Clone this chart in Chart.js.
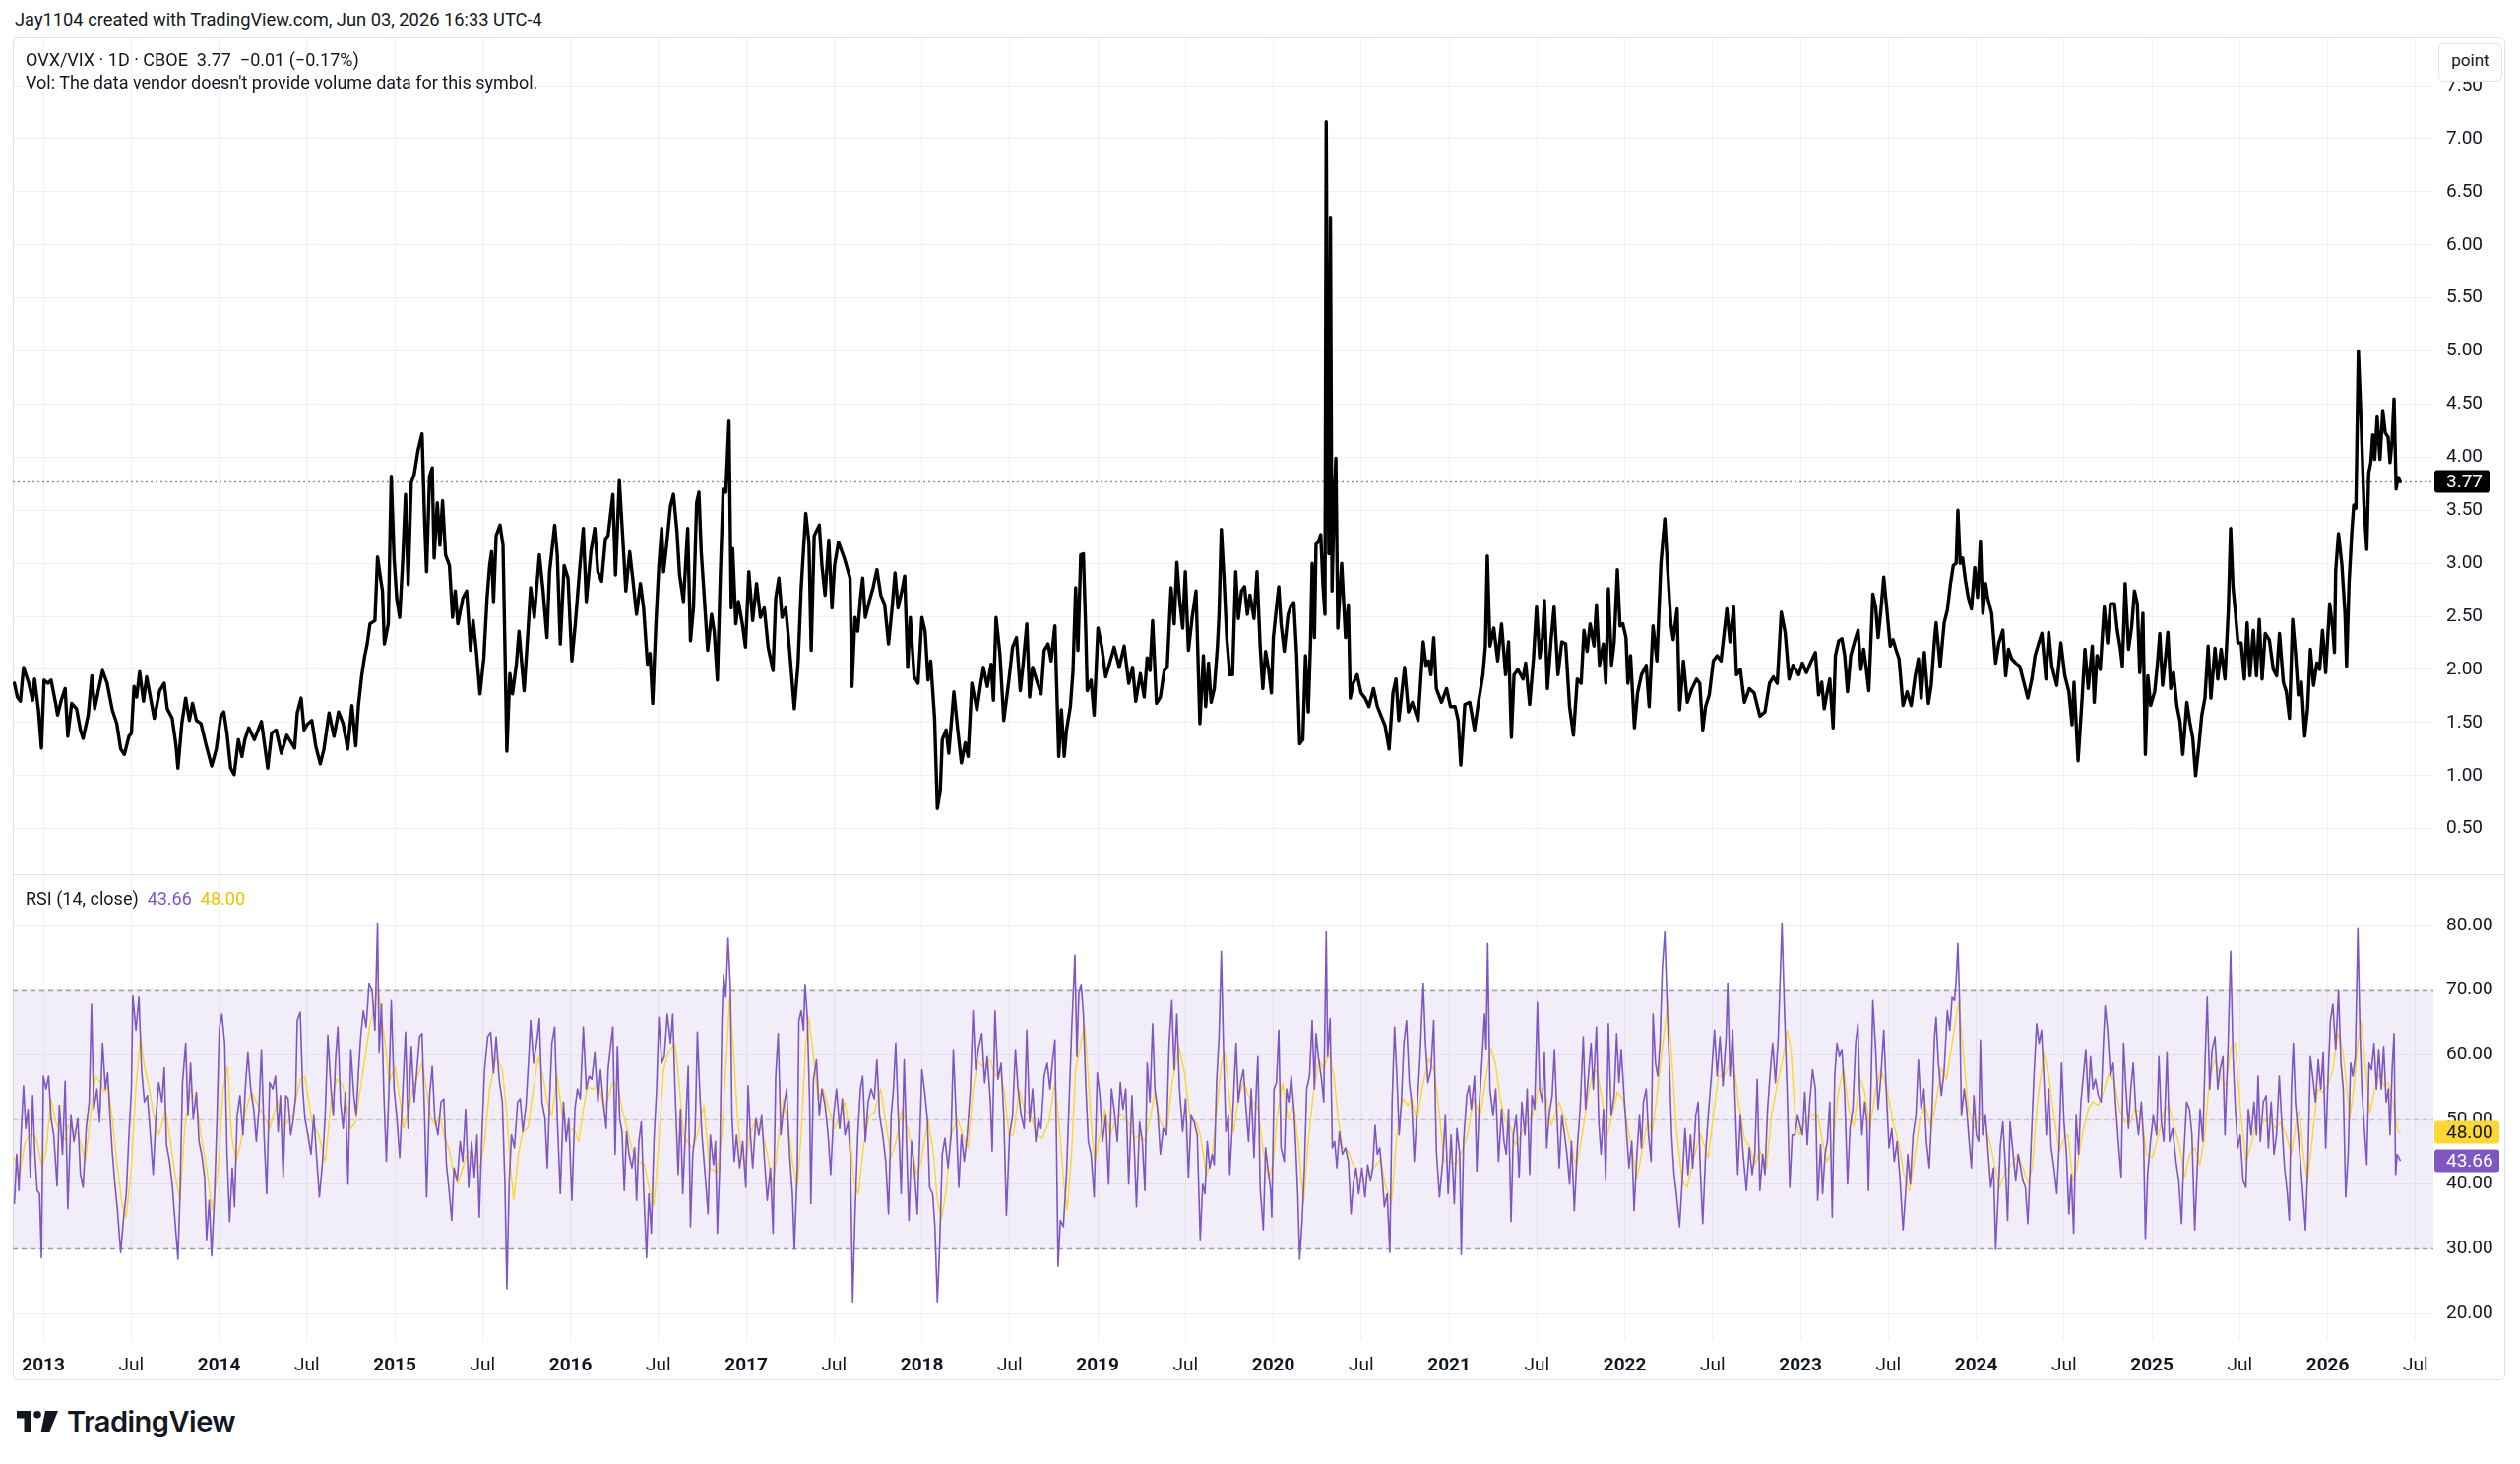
<!DOCTYPE html>
<html lang="en">
<head>
<meta charset="UTF-8">
<title>OVX/VIX with RSI</title>
<script src="https://cdn.jsdelivr.net/npm/chart.js"></script>
<style>
  body { margin: 0; background: #fff; font-family: Roboto, "Liberation Sans", Arial, sans-serif; color: #131722; }
  #page { position: relative; width: 2560px; height: 1487px; overflow: hidden; }
  .abs { position: absolute; white-space: nowrap; }
  #frame { position: absolute; left: 13px; top: 38px; width: 2532px; height: 1364px; box-sizing: border-box;
           border: 1px solid #e0e3eb; border-radius: 5px; }
  #sep { position: absolute; left: 13px; top: 888px; width: 2532px; height: 1px; background: #e0e3eb; }
  #priceBox { position: absolute; left: 13px; top: 38px; width: 2532px; height: 850px; }
  #rsiBox { position: absolute; left: 13px; top: 888px; width: 2532px; height: 514px; }
  #unit { position: absolute; left: 2477px; top: 44px; width: 65px; height: 39px; box-sizing: border-box;
          border: 1px solid #e0e3eb; border-radius: 6px; background: #fff; font-size: 17px; line-height: 33px; text-align: center; }
  .leg { font-size: 18px; }
</style>
</head>
<body>
<div id="page">
  <div class="abs" style="left:15px; top:9px; font-size:18.3px;">Jay1104 created with TradingView.com, Jun 03, 2026 16:33 UTC-4</div>
  <div id="frame"></div>
  <div id="priceBox"><canvas id="priceChart"></canvas></div>
  <div id="rsiBox"><canvas id="rsiChart"></canvas></div>
  <div id="sep"></div>
  <div class="abs leg" style="left:26px; top:50px;">OVX/VIX · 1D · CBOE&nbsp; 3.77&nbsp; −0.01 (−0.17%)</div>
  <div class="abs leg" style="left:26px; top:73px;">Vol: The data vendor doesn't provide volume data for this symbol.</div>
  <div class="abs leg" style="left:26px; top:902px;">RSI (14, close)&nbsp; <span style="color:#7e57c2">43.66</span>&nbsp; <span style="color:#f2c200">48.00</span></div>
  <div id="unit">point</div>
  <svg class="abs" style="left:17px; top:1433px;" width="42" height="22" viewBox="0 0 42 22">
    <path d="M0 0 H15 V22 H7.5 V7.5 H0 Z" fill="#131722"/>
    <circle cx="21" cy="3.8" r="3.8" fill="#131722"/>
    <path d="M29 0 H42 L33 22 H24.5 Z" fill="#131722"/>
  </svg>
  <div class="abs" style="left:68px; top:1426px; font-family: Inter, Roboto, sans-serif; font-size:29px; font-weight:600; letter-spacing:-0.5px;">TradingView</div>
</div>
<script>
const FONT = 'Roboto, "Liberation Sans", Arial, sans-serif';
Chart.defaults.font.family = FONT;
Chart.defaults.color = '#131722';

// visible time window, decimal years
const xMin = 2012.826;
const xMax = 2026.602;

const timeTicks = [2013, 2013.5, 2014, 2014.5, 2015, 2015.5, 2016, 2016.5, 2017, 2017.5, 2018, 2018.5, 2019, 2019.5,
                   2020, 2020.5, 2021, 2021.5, 2022, 2022.5, 2023, 2023.5, 2024, 2024.5, 2025, 2025.5, 2026, 2026.5];
const timeTickLabels = ['2013', 'Jul', '2014', 'Jul', '2015', 'Jul', '2016', 'Jul', '2017', 'Jul', '2018', 'Jul', '2019', 'Jul',
                        '2020', 'Jul', '2021', 'Jul', '2022', 'Jul', '2023', 'Jul', '2024', 'Jul', '2025', 'Jul', '2026', 'Jul'];
const priceTicks = [0.5, 1, 1.5, 2, 2.5, 3, 3.5, 4, 4.5, 5, 5.5, 6, 6.5, 7, 7.5];
const rsiTicks = [20, 30, 40, 50, 60, 70, 80];

const lastClose = 3.77;
const lastRsi = 43.66;
const lastMa = 48.00;
const rsiUpper = 70, rsiMiddle = 50, rsiLower = 30;

// OVX/VIX close (decimal year, ratio)
const priceDates = [
  2012.835, 2012.852, 2012.869, 2012.887, 2012.917, 2012.939, 2012.950, 2012.972, 2012.989, 2013.004,
  2013.026, 2013.044, 2013.070, 2013.081, 2013.102, 2013.124, 2013.139, 2013.161, 2013.189, 2013.211,
  2013.226, 2013.255, 2013.276, 2013.292, 2013.313, 2013.337, 2013.363, 2013.392, 2013.418, 2013.440,
  2013.461, 2013.487, 2013.501, 2013.516, 2013.531, 2013.548, 2013.570, 2013.588, 2013.609, 2013.631,
  2013.662, 2013.688, 2013.705, 2013.733, 2013.755, 2013.766, 2013.788, 2013.810, 2013.831, 2013.849,
  2013.871, 2013.897, 2013.923, 2013.958, 2013.984, 2014.010, 2014.027, 2014.045, 2014.066, 2014.086,
  2014.110, 2014.130, 2014.147, 2014.169, 2014.201, 2014.241, 2014.260, 2014.277, 2014.299, 2014.325,
  2014.354, 2014.386, 2014.430, 2014.445, 2014.467, 2014.484, 2014.506, 2014.528, 2014.550, 2014.576,
  2014.597, 2014.626, 2014.654, 2014.680, 2014.706, 2014.732, 2014.756, 2014.778, 2014.793, 2014.811,
  2014.828, 2014.843, 2014.859, 2014.887, 2014.902, 2014.919, 2014.930, 2014.941, 2014.963, 2014.980,
  2014.996, 2015.011, 2015.028, 2015.046, 2015.061, 2015.076, 2015.094, 2015.111, 2015.133, 2015.155,
  2015.170, 2015.181, 2015.198, 2015.213, 2015.224, 2015.242, 2015.257, 2015.272, 2015.289, 2015.311,
  2015.329, 2015.344, 2015.359, 2015.387, 2015.409, 2015.431, 2015.446, 2015.464, 2015.485, 2015.507,
  2015.525, 2015.540, 2015.551, 2015.562, 2015.577, 2015.599, 2015.616, 2015.638, 2015.655, 2015.670,
  2015.692, 2015.707, 2015.736, 2015.757, 2015.773, 2015.794, 2015.823, 2015.844, 2015.866, 2015.881,
  2015.910, 2015.925, 2015.942, 2015.964, 2015.986, 2016.008, 2016.029, 2016.051, 2016.073, 2016.090,
  2016.116, 2016.138, 2016.156, 2016.177, 2016.199,
  2016.214, 2016.241, 2016.256, 2016.278, 2016.300, 2016.315, 2016.337, 2016.354, 2016.376, 2016.398,
  2016.416, 2016.438, 2016.453, 2016.468, 2016.486, 2016.503, 2016.519, 2016.530, 2016.547, 2016.569,
  2016.586, 2016.606, 2016.621, 2016.643, 2016.667, 2016.683, 2016.700, 2016.718, 2016.731, 2016.744,
  2016.759, 2016.781, 2016.803, 2016.818, 2016.836, 2016.853, 2016.869, 2016.884, 2016.902, 2016.915,
  2016.923, 2016.941, 2016.956, 2016.978, 2016.996, 2017.015, 2017.037, 2017.059, 2017.081, 2017.103,
  2017.125, 2017.153, 2017.168, 2017.186, 2017.204, 2017.225, 2017.247, 2017.274, 2017.295, 2017.313,
  2017.339, 2017.357, 2017.370, 2017.387, 2017.416, 2017.431, 2017.449, 2017.470, 2017.488, 2017.503,
  2017.525, 2017.558, 2017.591, 2017.602, 2017.619, 2017.635, 2017.650, 2017.663, 2017.678, 2017.700,
  2017.722, 2017.744, 2017.766, 2017.788, 2017.810, 2017.832, 2017.847, 2017.864, 2017.886, 2017.902,
  2017.919, 2017.934, 2017.956, 2017.978, 2018.000, 2018.018, 2018.035, 2018.050, 2018.072, 2018.088,
  2018.105, 2018.116, 2018.138, 2018.153, 2018.182, 2018.204, 2018.225, 2018.247, 2018.263, 2018.284,
  2018.313, 2018.335, 2018.350, 2018.372, 2018.394, 2018.407, 2018.422, 2018.444, 2018.466, 2018.495,
  2018.516, 2018.538, 2018.560, 2018.576, 2018.597, 2018.613, 2018.630, 2018.652, 2018.678, 2018.696,
  2018.718, 2018.735, 2018.757, 2018.779, 2018.794, 2018.810, 2018.823, 2018.845, 2018.860, 2018.875,
  2018.888, 2018.904, 2018.919, 2018.932, 2018.941, 2018.963, 2018.980, 2019.002, 2019.024, 2019.046,
  2019.072, 2019.094, 2019.123, 2019.151, 2019.177, 2019.199, 2019.217, 2019.243, 2019.265, 2019.282,
  2019.298, 2019.313, 2019.335, 2019.357, 2019.379, 2019.396, 2019.418, 2019.436, 2019.451, 2019.466,
  2019.484, 2019.499, 2019.517, 2019.538, 2019.560, 2019.582,
  2019.602, 2019.615, 2019.631, 2019.646, 2019.664, 2019.682, 2019.691, 2019.704, 2019.719, 2019.735,
  2019.752, 2019.768, 2019.786, 2019.801, 2019.819, 2019.836, 2019.852, 2019.867, 2019.890, 2019.907,
  2019.925, 2019.940, 2019.956, 2019.973, 2019.989, 2020.000, 2020.022, 2020.031, 2020.044, 2020.062,
  2020.084, 2020.102, 2020.117, 2020.133, 2020.150, 2020.168, 2020.183, 2020.199, 2020.212, 2020.221,
  2020.234, 2020.243, 2020.256, 2020.270, 2020.283, 2020.294, 2020.301, 2020.307, 2020.316, 2020.325,
  2020.334, 2020.345, 2020.356, 2020.367, 2020.389, 2020.411, 2020.427, 2020.438, 2020.455, 2020.477,
  2020.499, 2020.522, 2020.544, 2020.570, 2020.592, 2020.614, 2020.636, 2020.659, 2020.681, 2020.698,
  2020.714, 2020.747, 2020.769, 2020.791, 2020.824, 2020.853, 2020.869, 2020.884, 2020.897, 2020.913,
  2020.928, 2020.957, 2020.986, 2021.008, 2021.034, 2021.052, 2021.067, 2021.090, 2021.118, 2021.145,
  2021.167, 2021.193, 2021.207, 2021.218, 2021.233, 2021.255, 2021.277, 2021.299, 2021.322, 2021.339,
  2021.355, 2021.370, 2021.392, 2021.421, 2021.436, 2021.459, 2021.481, 2021.498, 2021.516, 2021.531,
  2021.543, 2021.560, 2021.582, 2021.598, 2021.620, 2021.642, 2021.664, 2021.686, 2021.708, 2021.730,
  2021.752, 2021.768, 2021.786, 2021.803, 2021.825, 2021.839, 2021.856, 2021.878, 2021.892, 2021.907,
  2021.925, 2021.940, 2021.958, 2021.973, 2021.989, 2022.007, 2022.018, 2022.033, 2022.055, 2022.073,
  2022.095, 2022.122, 2022.139, 2022.161, 2022.183, 2022.206, 2022.228, 2022.245, 2022.263, 2022.276,
  2022.298, 2022.312, 2022.334, 2022.356, 2022.382, 2022.409, 2022.427, 2022.444, 2022.460, 2022.481,
  2022.504, 2022.526, 2022.548, 2022.581, 2022.599, 2022.620, 2022.636, 2022.658, 2022.681, 2022.709,
  2022.736, 2022.769, 2022.798, 2022.824, 2022.846, 2022.868, 2022.891, 2022.913, 2022.935, 2022.957,
  2022.990,
  2023.011, 2023.034, 2023.057, 2023.085, 2023.103, 2023.121, 2023.135, 2023.149, 2023.167, 2023.186,
  2023.199, 2023.218, 2023.236, 2023.252, 2023.268, 2023.286, 2023.309, 2023.328, 2023.344, 2023.360,
  2023.373, 2023.389, 2023.412, 2023.428, 2023.442, 2023.458, 2023.474, 2023.492, 2023.511, 2023.527,
  2023.543, 2023.561, 2023.584, 2023.607, 2023.630, 2023.653, 2023.671, 2023.687, 2023.705, 2023.728,
  2023.744, 2023.763, 2023.772, 2023.795, 2023.818, 2023.836, 2023.854, 2023.870, 2023.886, 2023.896,
  2023.909, 2023.923, 2023.939, 2023.955, 2023.973, 2023.992, 2024.008, 2024.024, 2024.038, 2024.054,
  2024.065, 2024.088, 2024.111, 2024.129, 2024.152, 2024.168, 2024.184, 2024.202, 2024.225, 2024.248,
  2024.271, 2024.294, 2024.317, 2024.335, 2024.351, 2024.374, 2024.397, 2024.413, 2024.431, 2024.459,
  2024.482, 2024.505, 2024.528, 2024.546, 2024.557, 2024.580, 2024.603, 2024.619, 2024.638, 2024.661,
  2024.672, 2024.688, 2024.706, 2024.729, 2024.748, 2024.764, 2024.787, 2024.803, 2024.821, 2024.832,
  2024.848, 2024.867, 2024.885, 2024.901, 2024.917, 2024.931, 2024.949, 2024.963, 2024.977, 2024.993,
  2025.016, 2025.032, 2025.045, 2025.061, 2025.077, 2025.091, 2025.107, 2025.123, 2025.142, 2025.160,
  2025.176, 2025.199, 2025.215, 2025.233, 2025.249, 2025.268, 2025.284, 2025.302, 2025.320, 2025.336,
  2025.359, 2025.375, 2025.394, 2025.416, 2025.435, 2025.448, 2025.462, 2025.474, 2025.490, 2025.508,
  2025.526, 2025.542, 2025.558, 2025.577, 2025.595, 2025.611, 2025.627, 2025.645, 2025.668, 2025.691,
  2025.710, 2025.726, 2025.748, 2025.765, 2025.783, 2025.801, 2025.817, 2025.833, 2025.851, 2025.870,
  2025.886, 2025.902, 2025.920, 2025.939, 2025.955, 2025.971, 2025.989, 2026.012, 2026.030, 2026.039,
  2026.046, 2026.062, 2026.081, 2026.099, 2026.108, 2026.122, 2026.138, 2026.149, 2026.161, 2026.175,
  2026.191, 2026.207, 2026.223, 2026.234, 2026.246, 2026.257, 2026.268, 2026.282, 2026.298, 2026.314,
  2026.328, 2026.344, 2026.355, 2026.367, 2026.378, 2026.390, 2026.401, 2026.413
];
const priceValues = [
  1.87, 1.74, 1.70, 2.02, 1.87, 1.71, 1.91, 1.62, 1.26, 1.90,
  1.87, 1.90, 1.68, 1.57, 1.71, 1.82, 1.37, 1.68, 1.63, 1.43,
  1.35, 1.57, 1.94, 1.63, 1.80, 1.99, 1.87, 1.62, 1.49, 1.25,
  1.20, 1.37, 1.40, 1.84, 1.74, 1.98, 1.70, 1.93, 1.74, 1.54,
  1.80, 1.87, 1.63, 1.54, 1.28, 1.07, 1.49, 1.73, 1.52, 1.68,
  1.52, 1.49, 1.31, 1.09, 1.25, 1.56, 1.60, 1.40, 1.07, 1.01,
  1.34, 1.18, 1.34, 1.45, 1.34, 1.51, 1.28, 1.07, 1.40, 1.43,
  1.21, 1.38, 1.26, 1.59, 1.73, 1.43, 1.49, 1.52, 1.28, 1.11,
  1.25, 1.59, 1.37, 1.60, 1.49, 1.25, 1.66, 1.28, 1.66, 1.93,
  2.12, 2.24, 2.43, 2.46, 3.06, 2.86, 2.74, 2.24, 2.43, 3.82,
  3.05, 2.67, 2.49, 3.05, 3.65, 2.80, 3.76, 3.84, 4.07, 4.22,
  3.39, 2.92, 3.82, 3.90, 3.05, 3.57, 3.17, 3.59, 3.08, 2.98,
  2.49, 2.74, 2.43, 2.67, 2.74, 2.18, 2.46, 2.18, 1.77, 2.11,
  2.67, 2.98, 3.11, 2.64, 3.26, 3.36, 3.17, 1.23, 1.96, 1.77,
  2.05, 2.36, 1.80, 2.33, 2.77, 2.49, 3.08, 2.74, 2.30, 2.92,
  3.36, 3.08, 2.24, 2.98, 2.86, 2.08, 2.46, 2.92, 3.33, 2.64,
  3.11, 3.33, 2.92, 2.83, 3.23,
  3.26, 3.65, 2.89, 3.78, 3.17, 2.74, 3.11, 2.86, 2.52, 2.81,
  2.58, 2.05, 2.15, 1.68, 2.43, 2.98, 3.33, 2.92, 3.17, 3.54,
  3.65, 3.30, 2.89, 2.64, 3.33, 2.27, 2.58, 3.57, 3.67, 3.11,
  2.74, 2.18, 2.52, 2.36, 1.90, 2.89, 3.70, 3.67, 4.34, 2.58,
  3.14, 2.43, 2.64, 2.43, 2.21, 2.92, 2.46, 2.81, 2.49, 2.58,
  2.21, 1.99, 2.67, 2.86, 2.49, 2.58, 2.18, 1.63, 2.05, 2.77,
  3.47, 3.20, 2.18, 3.26, 3.36, 2.98, 2.70, 3.22, 2.58, 2.98,
  3.20, 3.05, 2.86, 1.84, 2.49, 2.36, 2.67, 2.86, 2.49, 2.64,
  2.77, 2.94, 2.70, 2.61, 2.24, 2.61, 2.91, 2.58, 2.74, 2.88,
  2.02, 2.49, 1.93, 1.87, 2.49, 2.36, 1.90, 2.08, 1.54, 0.69,
  0.87, 1.34, 1.43, 1.21, 1.79, 1.43, 1.12, 1.31, 1.18, 1.87,
  1.62, 1.87, 2.02, 1.84, 2.05, 1.71, 2.49, 2.15, 1.52, 1.90,
  2.21, 2.30, 1.80, 2.05, 2.43, 1.74, 2.02, 1.90, 1.77, 2.18,
  2.24, 2.08, 2.41, 1.18, 1.62, 1.18, 1.43, 1.65, 1.99, 2.77,
  2.18, 3.08, 3.09, 2.39, 1.80, 1.90, 1.57, 2.39, 2.21, 1.93,
  2.08, 2.21, 2.02, 2.22, 1.87, 2.02, 1.70, 1.96, 1.74, 2.11,
  1.99, 2.46, 1.68, 1.74, 1.99, 2.02, 2.77, 2.43, 3.01, 2.67,
  2.39, 2.92, 2.18, 2.49, 2.74, 1.49,
  2.13, 1.65, 2.06, 1.69, 1.82, 2.22, 2.52, 3.32, 2.87, 2.30,
  1.95, 1.95, 2.92, 2.48, 2.74, 2.78, 2.52, 2.70, 2.48, 2.92,
  2.22, 1.82, 2.17, 2.00, 1.78, 2.30, 2.65, 2.78, 2.43, 2.17,
  2.52, 2.61, 2.63, 2.13, 1.30, 1.34, 2.13, 1.60, 2.26, 3.00,
  2.30, 3.18, 3.20, 3.27, 2.78, 2.52, 7.16, 4.84, 3.09, 6.26,
  2.74, 3.53, 3.99, 2.39, 3.00, 2.30, 2.61, 1.73, 1.87, 1.95,
  1.78, 1.73, 1.65, 1.82, 1.65, 1.56, 1.47, 1.25, 1.78, 1.91,
  1.52, 2.02, 1.60, 1.69, 1.52, 2.26, 2.04, 2.08, 1.95, 2.30,
  1.82, 1.69, 1.82, 1.65, 1.65, 1.52, 1.10, 1.67, 1.69, 1.43,
  1.69, 1.95, 2.22, 3.07, 2.22, 2.39, 2.08, 2.43, 1.95, 2.26,
  1.36, 1.95, 2.00, 1.91, 2.06, 1.67, 2.11, 2.59, 2.11, 2.30,
  2.65, 1.82, 2.30, 2.59, 1.95, 2.26, 2.24, 1.65, 1.38, 1.91,
  1.87, 2.37, 2.17, 2.43, 2.22, 2.61, 2.04, 2.24, 1.87, 2.76,
  2.04, 2.26, 2.94, 2.41, 2.43, 2.30, 1.87, 2.13, 1.45, 1.78,
  1.95, 2.04, 1.65, 2.41, 2.08, 3.00, 3.42, 2.92, 2.43, 2.28,
  2.57, 1.62, 2.08, 1.69, 1.82, 1.91, 1.87, 1.43, 1.65, 1.76,
  2.08, 2.13, 2.08, 2.57, 2.26, 2.59, 1.95, 2.00, 1.69, 1.82,
  1.78, 1.56, 1.60, 1.87, 1.93, 1.87, 2.54, 2.35, 1.91, 2.04,
  1.95,
  2.06, 1.97, 2.06, 2.16, 1.76, 1.88, 1.63, 1.76, 1.91, 1.45,
  2.13, 2.27, 2.29, 2.13, 1.79, 2.13, 2.27, 2.37, 2.00, 2.19,
  2.03, 1.80, 2.71, 2.59, 2.30, 2.56, 2.87, 2.56, 2.22, 2.28,
  2.19, 2.10, 1.66, 1.79, 1.66, 1.94, 2.10, 1.73, 2.16, 1.68,
  1.85, 2.28, 2.44, 2.03, 2.44, 2.56, 2.81, 2.98, 3.00, 3.50,
  3.00, 3.05, 2.84, 2.68, 2.57, 2.96, 2.68, 3.21, 2.53, 2.81,
  2.68, 2.53, 2.06, 2.25, 2.37, 1.94, 2.19, 2.10, 2.06, 2.03,
  1.88, 1.73, 1.91, 2.13, 2.22, 2.34, 1.91, 2.35, 2.03, 1.85,
  2.25, 1.94, 1.79, 1.48, 1.88, 1.14, 1.73, 2.19, 1.82, 2.22,
  1.69, 2.13, 2.00, 2.59, 2.25, 2.62, 2.62, 2.37, 2.19, 2.03,
  2.81, 2.19, 2.40, 2.74, 2.62, 1.97, 2.53, 1.20, 1.94, 1.66,
  1.79, 2.06, 2.34, 1.85, 2.10, 2.35, 1.82, 1.97, 1.66, 1.51,
  1.20, 1.69, 1.51, 1.35, 1.00, 1.29, 1.57, 1.73, 2.22, 1.73,
  2.20, 1.91, 2.19, 1.91, 2.56, 3.33, 2.77, 2.56, 2.25, 2.25,
  1.91, 2.44, 1.94, 2.37, 1.94, 2.47, 1.91, 2.34, 2.28, 2.00,
  1.94, 2.34, 1.88, 1.79, 1.54, 2.47, 2.16, 1.76, 1.88, 1.37,
  1.63, 2.19, 1.85, 2.06, 2.00, 2.37, 1.97, 2.62, 2.37, 2.16,
  2.93, 3.28, 2.99, 2.53, 2.03, 2.81, 3.30, 3.55, 3.52, 5.00,
  4.32, 3.55, 3.13, 3.85, 3.95, 4.21, 3.98, 4.38, 3.98, 4.44,
  4.23, 4.19, 3.95, 4.16, 4.55, 3.70, 3.81, 3.77
];

// RSI (14)
const rsiDates = [
  2012.835, 2012.848, 2012.861, 2012.874, 2012.887, 2012.900, 2012.913, 2012.926, 2012.939, 2012.952,
  2012.965, 2012.978, 2012.989, 2013.000, 2013.015, 2013.030, 2013.044, 2013.059, 2013.078, 2013.091,
  2013.109, 2013.124, 2013.139, 2013.157, 2013.174, 2013.196, 2013.211, 2013.226, 2013.244, 2013.261,
  2013.274, 2013.287, 2013.305, 2013.320, 2013.337, 2013.353, 2013.366, 2013.379, 2013.392, 2013.407,
  2013.422, 2013.440, 2013.457, 2013.472, 2013.487, 2013.501, 2013.509, 2013.527, 2013.544, 2013.559,
  2013.575, 2013.592, 2013.609, 2013.625, 2013.640, 2013.657, 2013.675, 2013.688, 2013.701, 2013.718,
  2013.733, 2013.749, 2013.766, 2013.777, 2013.792, 2013.810, 2013.823, 2013.838, 2013.853, 2013.871,
  2013.886, 2013.901, 2013.918, 2013.929, 2013.944, 2013.958, 2013.973, 2013.988, 2014.001, 2014.016,
  2014.032, 2014.045, 2014.060, 2014.075, 2014.088, 2014.103, 2014.119, 2014.136, 2014.149, 2014.164,
  2014.180, 2014.197, 2014.212, 2014.227, 2014.241, 2014.256, 2014.271, 2014.288, 2014.306, 2014.321,
  2014.336, 2014.349, 2014.365, 2014.380, 2014.393, 2014.408, 2014.423, 2014.436, 2014.445, 2014.462,
  2014.476, 2014.489, 2014.506, 2014.523, 2014.539, 2014.554, 2014.571, 2014.589, 2014.604, 2014.619,
  2014.637, 2014.650, 2014.663, 2014.676, 2014.691, 2014.706, 2014.719, 2014.734, 2014.750, 2014.767,
  2014.780, 2014.793, 2014.806, 2014.821, 2014.837, 2014.854, 2014.871, 2014.887, 2014.902, 2014.911,
  2014.924, 2014.937, 2014.952, 2014.967, 2014.980, 2014.996, 2015.011, 2015.028, 2015.046, 2015.061,
  2015.076, 2015.094, 2015.111, 2015.126, 2015.141, 2015.155, 2015.170, 2015.181, 2015.198, 2015.213,
  2015.228, 2015.246, 2015.263, 2015.279, 2015.294, 2015.311, 2015.324, 2015.337, 2015.355, 2015.372,
  2015.387, 2015.403, 2015.420, 2015.437, 2015.453, 2015.468, 2015.481, 2015.496, 2015.511, 2015.529,
  2015.546, 2015.562, 2015.577, 2015.594, 2015.612, 2015.627, 2015.638, 2015.651, 2015.664, 2015.681,
  2015.699, 2015.714, 2015.729, 2015.747, 2015.764, 2015.773, 2015.790, 2015.807, 2015.823, 2015.838,
  2015.855, 2015.868, 2015.881, 2015.894, 2015.910, 2015.925, 2015.942, 2015.960, 2015.975, 2015.990,
  2016.008, 2016.025, 2016.040, 2016.056, 2016.073, 2016.090, 2016.106, 2016.121, 2016.138, 2016.156,
  2016.171, 2016.186, 2016.203,
  2016.214, 2016.228, 2016.241, 2016.254, 2016.267, 2016.280, 2016.293, 2016.306, 2016.319, 2016.333,
  2016.350, 2016.365, 2016.376, 2016.389, 2016.403, 2016.416, 2016.433, 2016.446, 2016.460, 2016.475,
  2016.490, 2016.503, 2016.519, 2016.534, 2016.551, 2016.569, 2016.582, 2016.595, 2016.613, 2016.626,
  2016.639, 2016.652, 2016.670, 2016.683, 2016.696, 2016.709, 2016.722, 2016.735, 2016.748, 2016.766,
  2016.783, 2016.796, 2016.814, 2016.825, 2016.836, 2016.849, 2016.862, 2016.871, 2016.884, 2016.897,
  2016.910, 2016.919, 2016.932, 2016.945, 2016.963, 2016.980, 2016.998, 2017.011, 2017.024, 2017.037,
  2017.055, 2017.072, 2017.088, 2017.103, 2017.120, 2017.138, 2017.153, 2017.168, 2017.182, 2017.197,
  2017.212, 2017.230, 2017.247, 2017.263, 2017.274, 2017.291, 2017.300, 2017.313, 2017.326, 2017.335,
  2017.348, 2017.361, 2017.368, 2017.383, 2017.400, 2017.416, 2017.431, 2017.449, 2017.466, 2017.481,
  2017.497, 2017.514, 2017.532, 2017.547, 2017.562, 2017.580, 2017.593, 2017.606, 2017.619, 2017.635,
  2017.650, 2017.663, 2017.678, 2017.694, 2017.711, 2017.729, 2017.744, 2017.759, 2017.777, 2017.794,
  2017.810, 2017.825, 2017.838, 2017.851, 2017.864, 2017.882, 2017.899, 2017.912, 2017.926, 2017.941,
  2017.956, 2017.974, 2017.987, 2018.000, 2018.018, 2018.031, 2018.044, 2018.061, 2018.074, 2018.088,
  2018.101, 2018.116, 2018.131, 2018.149, 2018.166, 2018.179, 2018.193, 2018.210, 2018.225, 2018.241,
  2018.258, 2018.276, 2018.291, 2018.306, 2018.324, 2018.341, 2018.357, 2018.372, 2018.390, 2018.400,
  2018.416, 2018.433, 2018.451, 2018.466, 2018.481, 2018.499, 2018.516, 2018.532, 2018.547, 2018.565,
  2018.582, 2018.597, 2018.613, 2018.630, 2018.648, 2018.663, 2018.678, 2018.696, 2018.713, 2018.729,
  2018.744, 2018.757, 2018.766, 2018.775, 2018.788, 2018.805, 2018.823, 2018.838, 2018.853, 2018.871,
  2018.882, 2018.893, 2018.906, 2018.919, 2018.932, 2018.947, 2018.963, 2018.980, 2018.998, 2019.013,
  2019.028, 2019.046, 2019.063, 2019.079, 2019.094, 2019.112, 2019.129, 2019.144, 2019.160, 2019.177,
  2019.195, 2019.210, 2019.221, 2019.239, 2019.254, 2019.269, 2019.282, 2019.298, 2019.313, 2019.326,
  2019.341, 2019.357, 2019.374, 2019.392, 2019.407, 2019.422, 2019.436, 2019.451, 2019.466, 2019.484,
  2019.501, 2019.517, 2019.532, 2019.549, 2019.567, 2019.584,
  2019.598, 2019.611, 2019.624, 2019.638, 2019.653, 2019.664, 2019.677, 2019.691, 2019.704, 2019.717,
  2019.730, 2019.744, 2019.752, 2019.766, 2019.779, 2019.788, 2019.801, 2019.814, 2019.830, 2019.845,
  2019.859, 2019.874, 2019.890, 2019.903, 2019.912, 2019.925, 2019.943, 2019.956, 2019.969, 2019.985,
  2019.991, 2020.004, 2020.018, 2020.031, 2020.044, 2020.062, 2020.075, 2020.088, 2020.102, 2020.117,
  2020.128, 2020.139, 2020.150, 2020.164, 2020.177, 2020.190, 2020.206, 2020.221, 2020.234, 2020.243,
  2020.256, 2020.272, 2020.287, 2020.301, 2020.309, 2020.323, 2020.336, 2020.349, 2020.362, 2020.376,
  2020.393, 2020.411, 2020.427, 2020.442, 2020.455, 2020.471, 2020.486, 2020.504, 2020.522, 2020.537,
  2020.553, 2020.566, 2020.579, 2020.592, 2020.606, 2020.619, 2020.632, 2020.648, 2020.663, 2020.676,
  2020.690, 2020.703, 2020.716, 2020.729, 2020.743, 2020.758, 2020.774, 2020.787, 2020.802, 2020.818,
  2020.835, 2020.853, 2020.866, 2020.880, 2020.897, 2020.913, 2020.928, 2020.946, 2020.964, 2020.979,
  2020.995, 2021.012, 2021.030, 2021.045, 2021.061, 2021.070, 2021.083, 2021.101, 2021.114, 2021.127,
  2021.145, 2021.158, 2021.171, 2021.189, 2021.202, 2021.211, 2021.220, 2021.233, 2021.251, 2021.266,
  2021.282, 2021.299, 2021.313, 2021.326, 2021.339, 2021.353, 2021.366, 2021.383, 2021.399, 2021.414,
  2021.432, 2021.445, 2021.459, 2021.472, 2021.487, 2021.503, 2021.516, 2021.531, 2021.543, 2021.556,
  2021.569, 2021.587, 2021.600, 2021.613, 2021.627, 2021.642, 2021.658, 2021.671, 2021.686, 2021.697,
  2021.713, 2021.730, 2021.746, 2021.764, 2021.777, 2021.790, 2021.808, 2021.821, 2021.839, 2021.852,
  2021.865, 2021.879, 2021.892, 2021.907, 2021.923, 2021.940, 2021.954, 2021.967, 2021.980, 2021.996,
  2022.011, 2022.024, 2022.040, 2022.053, 2022.069, 2022.084, 2022.095, 2022.106, 2022.122, 2022.135,
  2022.150, 2022.161, 2022.175, 2022.188, 2022.201, 2022.214, 2022.228, 2022.241, 2022.254, 2022.267,
  2022.281, 2022.294, 2022.312, 2022.327, 2022.343, 2022.360, 2022.374, 2022.387, 2022.404, 2022.418,
  2022.431, 2022.444, 2022.460, 2022.475, 2022.493, 2022.511, 2022.526, 2022.542, 2022.559, 2022.577,
  2022.586, 2022.599, 2022.614, 2022.630, 2022.643, 2022.658, 2022.674, 2022.692, 2022.709, 2022.725,
  2022.740, 2022.754, 2022.769, 2022.785, 2022.798, 2022.813, 2022.829, 2022.842, 2022.858, 2022.873,
  2022.886, 2022.895, 2022.908, 2022.924, 2022.939, 2022.953, 2022.968, 2022.984,
  2023.011, 2023.025, 2023.039, 2023.053, 2023.069, 2023.085, 2023.098, 2023.115, 2023.126, 2023.140,
  2023.153, 2023.167, 2023.181, 2023.195, 2023.208, 2023.222, 2023.236, 2023.252, 2023.268, 2023.282,
  2023.298, 2023.314, 2023.327, 2023.337, 2023.350, 2023.366, 2023.378, 2023.387, 2023.401, 2023.412,
  2023.428, 2023.442, 2023.458, 2023.474, 2023.488, 2023.504, 2023.520, 2023.534, 2023.550, 2023.566,
  2023.584, 2023.598, 2023.611, 2023.625, 2023.641, 2023.657, 2023.671, 2023.687, 2023.703, 2023.717,
  2023.733, 2023.749, 2023.763, 2023.772, 2023.785, 2023.802, 2023.818, 2023.836, 2023.850, 2023.863,
  2023.877, 2023.886, 2023.896, 2023.905, 2023.916, 2023.932, 2023.946, 2023.960, 2023.973, 2023.987,
  2024.001, 2024.014, 2024.024, 2024.037, 2024.053, 2024.069, 2024.083, 2024.099, 2024.111, 2024.124,
  2024.138, 2024.152, 2024.166, 2024.179, 2024.193, 2024.207, 2024.225, 2024.239, 2024.253, 2024.266,
  2024.280, 2024.294, 2024.312, 2024.328, 2024.344, 2024.358, 2024.372, 2024.385, 2024.399, 2024.413,
  2024.427, 2024.443, 2024.459, 2024.473, 2024.486, 2024.500, 2024.514, 2024.528, 2024.541, 2024.555,
  2024.569, 2024.583, 2024.596, 2024.610, 2024.624, 2024.638, 2024.651, 2024.665, 2024.679, 2024.695,
  2024.711, 2024.724, 2024.734, 2024.748, 2024.764, 2024.780, 2024.793, 2024.809, 2024.825, 2024.839,
  2024.853, 2024.867, 2024.880, 2024.894, 2024.908, 2024.924, 2024.940, 2024.953, 2024.963, 2024.976,
  2024.992, 2025.008, 2025.027, 2025.040, 2025.054, 2025.068, 2025.086, 2025.100, 2025.118, 2025.137,
  2025.153, 2025.169, 2025.182, 2025.198, 2025.214, 2025.228, 2025.244, 2025.260, 2025.274, 2025.290,
  2025.301, 2025.315, 2025.329, 2025.343, 2025.359, 2025.375, 2025.388, 2025.404, 2025.416, 2025.434,
  2025.448, 2025.462, 2025.475, 2025.489, 2025.503, 2025.519, 2025.535, 2025.549, 2025.565, 2025.581,
  2025.595, 2025.604, 2025.617, 2025.634, 2025.650, 2025.663, 2025.679, 2025.695, 2025.709, 2025.725,
  2025.741, 2025.755, 2025.771, 2025.782, 2025.794, 2025.805, 2025.817, 2025.833, 2025.851, 2025.862,
  2025.874, 2025.888, 2025.902, 2025.915, 2025.931, 2025.947, 2025.961, 2025.975, 2025.989, 2026.003,
  2026.016, 2026.030, 2026.046, 2026.062, 2026.076, 2026.089, 2026.103, 2026.117, 2026.131, 2026.144,
  2026.158, 2026.172, 2026.184, 2026.195, 2026.209, 2026.223, 2026.236, 2026.250, 2026.264, 2026.278,
  2026.291, 2026.305, 2026.319, 2026.333, 2026.346, 2026.355, 2026.367, 2026.378, 2026.387, 2026.396,
  2026.405, 2026.413
];
const rsiValues = [
  37.0, 44.6, 39.0, 48.1, 55.2, 48.6, 51.6, 41.0, 53.7, 44.6,
  39.0, 38.5, 28.6, 56.7, 54.7, 56.7, 50.1, 47.6, 39.7, 52.2,
  44.6, 55.9, 36.2, 50.6, 46.6, 50.1, 41.5, 39.5, 48.6, 52.7,
  67.8, 51.6, 54.7, 49.6, 61.8, 54.7, 57.2, 50.6, 45.1, 40.0,
  35.9, 29.4, 34.9, 38.5, 47.6, 54.7, 69.1, 63.8, 68.9, 57.7,
  52.7, 53.7, 47.6, 41.5, 50.1, 55.7, 52.7, 58.0, 46.1, 43.5,
  40.0, 34.4, 28.4, 37.5, 55.7, 61.8, 50.6, 58.7, 50.1, 54.2,
  46.6, 44.6, 41.0, 31.4, 37.5, 28.9, 37.5, 50.1, 63.8, 66.3,
  61.8, 45.1, 34.2, 42.5, 36.5, 50.6, 53.7, 47.6, 54.7, 60.3,
  54.7, 51.6, 46.6, 51.6, 60.8, 47.6, 38.5, 55.7, 54.7, 56.7,
  48.1, 53.7, 41.0, 53.7, 53.2, 47.6, 50.1, 53.7, 65.3, 66.6,
  54.7, 50.1, 47.6, 44.6, 50.6, 44.6, 38.0, 43.5, 50.6, 63.0,
  54.7, 50.6, 59.2, 64.3, 52.7, 48.6, 54.2, 40.0, 60.8, 53.7,
  50.6, 57.2, 62.8, 66.8, 64.3, 71.1, 69.9, 63.8, 80.3, 60.3,
  67.8, 54.7, 43.5, 54.7, 68.4, 54.7, 50.6, 44.1, 54.7, 63.5,
  48.6, 61.3, 52.7, 57.7, 62.8, 63.3, 50.1, 38.0, 53.7, 58.2,
  50.1, 47.6, 52.7, 53.2, 43.0, 38.5, 34.4, 42.5, 40.5, 46.6,
  43.5, 51.6, 39.5, 46.6, 41.0, 47.6, 34.9, 47.6, 57.7, 62.8,
  63.5, 57.2, 62.8, 56.2, 52.7, 40.0, 23.8, 40.0, 47.6, 45.6,
  52.7, 53.2, 48.1, 52.2, 60.3, 65.3, 58.7, 61.8, 65.6, 52.7,
  50.1, 42.5, 52.7, 61.8, 64.3, 50.1, 38.5, 52.7, 46.6, 50.1,
  37.5, 51.6, 54.7, 53.2, 64.3, 54.7, 56.7, 56.2, 60.3, 52.7,
  57.7, 52.7, 48.6,
  57.7, 61.3, 64.3, 44.6, 61.3, 50.1, 48.1, 39.0, 48.1, 44.6,
  42.5, 45.6, 37.5, 46.6, 49.6, 39.5, 28.6, 38.5, 32.4, 46.6,
  54.7, 65.8, 58.7, 59.7, 66.3, 61.8, 66.3, 54.7, 41.5, 51.6,
  38.5, 46.6, 58.2, 33.4, 44.6, 47.6, 63.5, 54.7, 47.6, 41.5,
  35.4, 47.6, 43.0, 46.6, 32.4, 42.5, 65.3, 72.4, 68.9, 78.0,
  70.4, 50.6, 43.5, 47.6, 42.5, 46.6, 39.5, 55.2, 47.6, 42.5,
  50.1, 47.6, 50.6, 44.1, 37.5, 42.5, 32.4, 56.7, 63.3, 47.6,
  51.6, 54.7, 44.6, 38.5, 29.9, 42.5, 65.3, 66.8, 63.8, 70.9,
  65.8, 52.7, 37.0, 56.2, 59.2, 50.6, 54.7, 52.2, 47.6, 41.5,
  50.6, 54.7, 48.6, 53.2, 47.6, 49.6, 44.1, 21.8, 34.9, 47.6,
  54.7, 56.7, 46.6, 52.7, 54.7, 53.2, 59.2, 50.6, 47.6, 43.5,
  35.4, 50.6, 54.7, 61.8, 51.6, 38.5, 59.2, 46.6, 34.4, 46.6,
  42.5, 35.4, 46.6, 57.7, 53.7, 50.1, 39.5, 38.5, 33.4, 21.8,
  30.4, 44.6, 47.1, 42.5, 47.6, 60.8, 51.6, 39.5, 47.6, 43.5,
  47.6, 54.7, 66.8, 57.7, 61.3, 63.3, 55.7, 59.7, 52.7, 45.1,
  66.8, 56.2, 58.7, 50.6, 35.2, 47.6, 50.6, 60.8, 54.7, 50.6,
  48.6, 63.8, 49.6, 54.7, 46.6, 50.1, 48.6, 56.7, 58.7, 54.7,
  59.2, 62.3, 46.6, 27.3, 34.4, 33.4, 41.5, 52.7, 64.3, 75.4,
  59.7, 69.4, 70.9, 66.3, 55.7, 46.6, 44.6, 38.0, 57.2, 53.7,
  46.6, 50.6, 40.0, 54.7, 51.6, 46.6, 55.7, 51.6, 54.7, 40.0,
  53.7, 44.6, 36.5, 49.6, 46.6, 39.0, 58.7, 52.7, 64.8, 54.7,
  51.6, 44.6, 48.6, 47.6, 61.8, 68.4, 57.7, 66.3, 54.7, 48.1,
  53.2, 41.0, 50.6, 49.6, 47.6, 31.4,
  40.0, 38.5, 46.6, 42.5, 44.6, 43.0, 55.7, 62.8, 76.0, 60.3,
  48.1, 50.6, 41.5, 48.6, 56.7, 61.8, 52.7, 55.7, 57.7, 51.6,
  46.6, 54.7, 44.1, 54.7, 59.7, 39.5, 32.9, 45.6, 42.5, 39.0,
  34.9, 54.7, 55.7, 63.8, 45.6, 43.5, 54.7, 52.7, 56.7, 51.6,
  45.6, 38.5, 28.4, 34.4, 42.5, 54.7, 56.7, 65.3, 54.7, 63.3,
  59.7, 56.7, 52.7, 79.0, 59.7, 65.6, 45.6, 46.6, 42.5, 48.1,
  44.6, 45.6, 43.5, 35.4, 40.0, 42.5, 38.5, 42.5, 38.0, 43.0,
  40.5, 42.5, 49.1, 44.6, 45.6, 41.5, 36.5, 38.5, 29.4, 52.7,
  64.3, 56.7, 47.6, 52.7, 61.8, 65.3, 55.7, 52.7, 43.5, 51.6,
  59.7, 71.1, 61.8, 55.7, 57.7, 65.3, 45.1, 38.0, 43.5, 50.6,
  38.5, 47.6, 37.0, 48.6, 44.6, 29.1, 46.6, 53.7, 55.2, 51.6,
  56.7, 42.0, 51.6, 59.7, 66.3, 60.8, 77.2, 54.7, 50.6, 54.7,
  43.5, 51.6, 46.6, 44.6, 51.6, 34.2, 47.6, 50.6, 41.0, 52.7,
  47.6, 54.7, 41.5, 53.7, 51.6, 68.1, 54.7, 52.7, 60.3, 45.6,
  50.6, 53.7, 60.8, 51.6, 42.5, 50.6, 47.6, 44.6, 40.0, 46.6,
  35.9, 45.6, 51.6, 62.8, 51.6, 55.7, 61.8, 54.7, 64.3, 49.6,
  44.6, 51.6, 40.5, 64.8, 50.6, 53.7, 63.3, 55.7, 60.8, 53.7,
  47.6, 42.5, 46.6, 35.9, 44.6, 50.6, 45.6, 52.7, 54.7, 47.6,
  43.5, 66.3, 58.7, 56.7, 61.8, 73.4, 79.0, 67.8, 58.7, 47.6,
  41.5, 38.5, 33.4, 40.5, 48.6, 41.5, 47.6, 42.5, 50.6, 52.7,
  41.5, 33.9, 44.6, 50.6, 56.7, 63.8, 56.7, 62.8, 55.2, 62.8,
  71.1, 56.7, 63.8, 51.6, 41.5, 50.6, 44.6, 39.0, 45.6, 41.5,
  44.6, 56.2, 39.0, 44.6, 41.5, 51.6, 57.7, 61.8, 55.7, 62.3,
  72.9, 80.3, 67.8, 54.7, 39.5, 47.6, 47.6, 50.6,
  47.6, 54.2, 46.1, 52.7, 57.7, 54.7, 37.5, 46.1, 38.5, 44.6,
  46.6, 52.7, 34.9, 56.7, 61.8, 59.7, 60.8, 53.7, 40.0, 48.6,
  51.6, 61.8, 64.8, 54.7, 47.6, 52.7, 49.6, 39.0, 54.7, 68.4,
  60.8, 51.6, 56.7, 63.8, 54.7, 45.6, 48.6, 43.5, 46.6, 41.0,
  32.9, 38.5, 44.6, 40.0, 47.6, 50.6, 59.2, 51.6, 54.7, 46.6,
  42.5, 51.6, 62.8, 65.8, 58.7, 53.7, 57.7, 66.8, 63.8, 68.9,
  68.4, 71.4, 77.2, 68.9, 50.6, 54.7, 51.6, 46.6, 42.5, 53.7,
  47.6, 46.6, 62.3, 47.6, 50.6, 44.6, 39.5, 42.5, 29.9, 37.5,
  46.1, 49.6, 43.0, 34.4, 49.6, 45.6, 40.5, 44.6, 42.5, 40.5,
  39.5, 33.9, 45.6, 56.2, 64.8, 61.8, 63.8, 56.7, 47.6, 54.7,
  45.6, 42.5, 38.5, 46.6, 58.7, 49.6, 44.6, 35.4, 41.5, 32.4,
  50.6, 44.6, 52.7, 56.7, 60.8, 52.7, 59.7, 54.7, 56.2, 53.7,
  52.7, 61.8, 67.6, 63.8, 56.7, 58.7, 52.7, 46.6, 41.0, 61.8,
  54.7, 48.6, 54.7, 58.7, 51.6, 47.6, 52.7, 46.6, 31.6, 41.5,
  46.6, 50.6, 47.6, 59.7, 49.6, 46.6, 60.3, 46.6, 48.6, 43.5,
  40.5, 33.9, 44.6, 52.7, 51.6, 47.6, 32.9, 43.5, 51.6, 46.6,
  57.7, 68.9, 54.7, 60.8, 62.8, 54.7, 57.7, 59.7, 47.6, 61.8,
  76.0, 59.7, 51.6, 45.6, 47.6, 40.5, 39.5, 51.6, 47.6, 52.7,
  47.6, 56.7, 46.6, 52.7, 53.7, 45.6, 52.7, 44.6, 47.6, 56.7,
  48.6, 42.5, 38.5, 34.4, 54.7, 61.8, 52.7, 47.6, 41.5, 37.5,
  32.9, 43.5, 59.7, 56.7, 52.7, 59.2, 54.7, 60.3, 45.6, 56.7,
  65.3, 67.8, 60.8, 69.9, 58.7, 54.7, 38.0, 44.6, 58.7, 56.7,
  59.7, 79.5, 63.8, 54.7, 48.6, 43.0, 58.7, 57.7, 61.8, 54.7,
  60.8, 54.7, 61.3, 52.7, 54.7, 47.6, 57.7, 63.3, 41.5, 44.6,
  44.1, 43.66
];

// RSI-based moving average (yellow line)
const maDates = [
  2012.835, 2012.863, 2012.896, 2012.928, 2012.961, 2012.993, 2013.015, 2013.044, 2013.070, 2013.096,
  2013.124, 2013.139, 2013.174, 2013.200, 2013.239, 2013.266, 2013.298, 2013.326, 2013.348, 2013.370,
  2013.396, 2013.422, 2013.450, 2013.472, 2013.501, 2013.527, 2013.553, 2013.575, 2013.603, 2013.631,
  2013.657, 2013.696, 2013.723, 2013.749, 2013.777, 2013.805, 2013.836, 2013.871, 2013.897, 2013.929,
  2013.962, 2013.995, 2014.023, 2014.049, 2014.071, 2014.097, 2014.125, 2014.153, 2014.184, 2014.212,
  2014.245, 2014.288, 2014.332, 2014.375, 2014.419, 2014.462, 2014.489, 2014.528, 2014.567, 2014.604,
  2014.637, 2014.669, 2014.702, 2014.724, 2014.750, 2014.778, 2014.806, 2014.832, 2014.859, 2014.887,
  2014.904, 2014.930, 2014.952, 2014.967, 2015.002, 2015.028, 2015.050, 2015.076, 2015.104, 2015.155,
  2015.181, 2015.202, 2015.228, 2015.257, 2015.279, 2015.307, 2015.333, 2015.359, 2015.387, 2015.416,
  2015.446, 2015.485, 2015.511, 2015.540, 2015.577, 2015.612, 2015.638, 2015.659, 2015.677, 2015.703,
  2015.729, 2015.757, 2015.786, 2015.816, 2015.844, 2015.866, 2015.894, 2015.925, 2015.953, 2015.986,
  2016.019, 2016.047, 2016.073, 2016.095, 2016.127, 2016.160, 2016.193,
  2016.241, 2016.271, 2016.293, 2016.322, 2016.354, 2016.387, 2016.420, 2016.446, 2016.475, 2016.503,
  2016.530, 2016.556, 2016.595, 2016.621, 2016.643, 2016.665, 2016.694, 2016.722, 2016.759, 2016.792,
  2016.836, 2016.862, 2016.891, 2016.906, 2016.928, 2016.950, 2016.972, 2016.993, 2017.022, 2017.055,
  2017.088, 2017.120, 2017.153, 2017.186, 2017.212, 2017.241, 2017.263, 2017.291, 2017.313, 2017.339,
  2017.357, 2017.383, 2017.409, 2017.438, 2017.470, 2017.503, 2017.536, 2017.562, 2017.591, 2017.613,
  2017.639, 2017.667, 2017.700, 2017.729, 2017.766, 2017.794, 2017.825, 2017.853, 2017.886, 2017.919,
  2017.941, 2017.969, 2017.996, 2018.035, 2018.066, 2018.088, 2018.112, 2018.138, 2018.166, 2018.204,
  2018.232, 2018.263, 2018.291, 2018.319, 2018.346, 2018.390, 2018.416, 2018.444, 2018.473, 2018.495,
  2018.521, 2018.554, 2018.582, 2018.619, 2018.652, 2018.685, 2018.722, 2018.757, 2018.783, 2018.810,
  2018.827, 2018.853, 2018.875, 2018.904, 2018.926, 2018.947, 2018.969, 2018.985, 2019.013, 2019.042,
  2019.072, 2019.101, 2019.134, 2019.173, 2019.210, 2019.243, 2019.269, 2019.298, 2019.326, 2019.352,
  2019.392, 2019.422, 2019.462, 2019.495, 2019.527, 2019.560, 2019.584,
  2019.620, 2019.653, 2019.682, 2019.704, 2019.726, 2019.752, 2019.775, 2019.801, 2019.830, 2019.859,
  2019.885, 2019.912, 2019.940, 2019.973, 2020.000, 2020.022, 2020.053, 2020.084, 2020.117, 2020.146,
  2020.172, 2020.199, 2020.228, 2020.261, 2020.287, 2020.316, 2020.345, 2020.367, 2020.393, 2020.427,
  2020.460, 2020.493, 2020.526, 2020.570, 2020.610, 2020.636, 2020.672, 2020.703, 2020.736, 2020.765,
  2020.787, 2020.818, 2020.846, 2020.884, 2020.919, 2020.946, 2020.972, 2021.008, 2021.039, 2021.067,
  2021.105, 2021.140, 2021.178, 2021.211, 2021.238, 2021.264, 2021.288, 2021.322, 2021.348, 2021.377,
  2021.410, 2021.443, 2021.476, 2021.509, 2021.543, 2021.582, 2021.627, 2021.658, 2021.693, 2021.724,
  2021.752, 2021.786, 2021.812, 2021.841, 2021.870, 2021.901, 2021.929, 2021.958, 2021.989, 2022.018,
  2022.046, 2022.069, 2022.095, 2022.128, 2022.157, 2022.183, 2022.217, 2022.245, 2022.272, 2022.294,
  2022.327, 2022.356, 2022.387, 2022.431, 2022.475, 2022.504, 2022.533, 2022.564, 2022.592, 2022.620,
  2022.647, 2022.681, 2022.714, 2022.740, 2022.769, 2022.807, 2022.835, 2022.868, 2022.902, 2022.924,
  2022.946, 2022.968, 2022.992,
  2023.034, 2023.069, 2023.098, 2023.126, 2023.153, 2023.183, 2023.213, 2023.245, 2023.275, 2023.305,
  2023.337, 2023.366, 2023.396, 2023.428, 2023.458, 2023.492, 2023.527, 2023.561, 2023.589, 2023.621,
  2023.653, 2023.680, 2023.710, 2023.744, 2023.772, 2023.802, 2023.831, 2023.863, 2023.900, 2023.927,
  2023.955, 2023.992, 2024.024, 2024.053, 2024.088, 2024.115, 2024.134, 2024.168, 2024.202, 2024.237,
  2024.266, 2024.298, 2024.321, 2024.351, 2024.385, 2024.413, 2024.443, 2024.473, 2024.500, 2024.523,
  2024.550, 2024.573, 2024.603, 2024.638, 2024.665, 2024.695, 2024.724, 2024.756, 2024.787, 2024.816,
  2024.844, 2024.878, 2024.901, 2024.940, 2024.970, 2025.004, 2025.038, 2025.068, 2025.096, 2025.130,
  2025.160, 2025.187, 2025.214, 2025.244, 2025.274, 2025.301, 2025.329, 2025.359, 2025.388, 2025.421,
  2025.451, 2025.474, 2025.503, 2025.535, 2025.565, 2025.599, 2025.634, 2025.668, 2025.703, 2025.732,
  2025.765, 2025.794, 2025.824, 2025.840, 2025.862, 2025.886, 2025.915, 2025.943, 2025.971, 2026.000,
  2026.030, 2026.058, 2026.085, 2026.103, 2026.126, 2026.149, 2026.172, 2026.191, 2026.213, 2026.240,
  2026.268, 2026.291, 2026.321, 2026.344, 2026.373, 2026.400, 2026.413
];
const maValues = [
  44.1, 41.0, 46.6, 47.8, 47.1, 42.5, 45.1, 53.2, 49.6, 48.1,
  46.8, 49.1, 48.1, 47.6, 43.5, 50.1, 56.7, 55.7, 54.2, 55.2,
  49.1, 42.5, 36.5, 34.9, 42.5, 55.2, 62.8, 58.2, 54.7, 50.1,
  47.6, 51.4, 46.6, 41.5, 37.5, 48.6, 54.7, 52.7, 47.6, 42.5,
  36.0, 42.5, 54.7, 58.2, 47.6, 43.5, 46.6, 51.6, 54.2, 52.7,
  51.1, 48.6, 52.7, 49.1, 50.6, 56.2, 56.7, 49.6, 47.6, 43.5,
  52.7, 56.2, 55.4, 52.7, 48.6, 49.6, 55.2, 59.7, 64.8, 67.8,
  70.4, 64.8, 60.3, 55.7, 58.2, 53.2, 48.6, 51.1, 54.7, 58.7,
  54.7, 50.6, 49.1, 50.6, 47.6, 45.6, 42.0, 40.0, 42.5, 45.1,
  44.6, 42.5, 46.6, 54.7, 59.7, 57.7, 50.6, 42.5, 37.5, 44.6,
  48.1, 48.6, 54.2, 59.7, 56.7, 52.7, 50.6, 56.7, 50.6, 48.1,
  48.6, 46.6, 51.6, 55.0, 54.7, 55.4, 51.6,
  55.7, 54.9, 51.6, 48.6, 45.1, 43.5, 43.0, 39.5, 36.7, 46.6,
  57.7, 60.3, 61.8, 54.7, 47.6, 46.6, 45.6, 47.6, 52.2, 42.5,
  41.8, 47.6, 61.3, 68.9, 60.3, 50.6, 44.6, 43.0, 47.6, 50.1,
  48.6, 44.6, 39.5, 47.6, 53.2, 48.6, 43.5, 39.5, 47.6, 61.8,
  65.8, 59.7, 53.2, 54.7, 51.6, 48.6, 50.6, 52.7, 47.6, 40.5,
  38.5, 45.6, 50.6, 51.1, 54.7, 49.6, 44.1, 46.6, 51.6, 48.6,
  46.1, 41.5, 43.5, 50.1, 44.6, 37.5, 34.7, 39.0, 47.6, 50.1,
  47.6, 45.6, 54.7, 59.0, 58.2, 59.2, 56.7, 57.7, 53.7, 47.6,
  47.6, 54.7, 51.6, 50.6, 47.6, 47.1, 49.6, 55.7, 48.6, 39.5,
  36.0, 45.1, 57.7, 61.8, 64.6, 56.7, 47.6, 43.5, 47.6, 51.6,
  47.6, 49.6, 50.9, 49.6, 47.1, 47.6, 46.6, 50.1, 54.2, 50.1,
  47.6, 55.2, 61.3, 57.2, 50.1, 49.6, 47.6,
  41.3, 44.6, 52.7, 58.7, 60.3, 52.7, 48.1, 53.2, 55.9, 53.7,
  52.7, 51.6, 45.6, 40.8, 43.5, 50.6, 55.7, 50.1, 52.2, 45.1,
  37.0, 46.6, 54.2, 59.2, 57.7, 60.3, 56.7, 50.6, 45.6, 45.1,
  42.5, 40.3, 41.0, 42.5, 43.8, 40.0, 37.0, 47.6, 53.2, 52.2,
  53.2, 49.6, 54.7, 59.5, 57.2, 50.6, 43.5, 43.5, 43.0, 44.6,
  47.6, 53.2, 50.6, 56.7, 61.0, 58.7, 53.7, 49.6, 49.1, 46.1,
  47.6, 49.6, 50.6, 54.7, 54.9, 49.1, 52.7, 50.1, 46.1, 42.8,
  46.6, 52.7, 56.7, 57.7, 53.2, 47.6, 50.6, 54.2, 53.2, 48.6,
  44.6, 40.8, 44.6, 49.6, 48.1, 53.7, 61.8, 68.4, 57.7, 48.6,
  40.5, 39.5, 43.5, 47.8, 44.1, 50.6, 56.7, 56.7, 58.2, 58.7,
  52.7, 47.1, 45.6, 43.0, 45.3, 42.5, 50.6, 55.4, 59.7, 63.8,
  60.8, 51.1, 47.6,
  50.1, 50.6, 50.6, 46.6, 43.5, 45.6, 53.7, 58.0, 51.6, 48.9,
  56.5, 54.2, 48.6, 54.7, 57.7, 54.7, 49.6, 46.1, 41.5, 39.0,
  44.6, 50.1, 52.2, 48.6, 52.7, 58.0, 56.2, 61.8, 68.1, 60.3,
  51.6, 48.6, 51.1, 49.1, 45.3, 41.5, 39.5, 42.0, 43.0, 44.6,
  42.5, 40.0, 43.0, 53.2, 60.3, 56.7, 50.6, 45.1, 47.1, 47.6,
  40.5, 42.5, 47.6, 51.6, 52.7, 52.2, 54.2, 57.2, 55.7, 51.6,
  49.6, 49.6, 51.6, 51.1, 44.6, 44.1, 47.6, 51.1, 52.2, 48.6,
  45.6, 41.0, 44.6, 45.6, 43.0, 47.6, 56.7, 59.2, 56.7, 55.2,
  61.3, 61.8, 51.6, 43.5, 46.1, 50.6, 49.6, 50.1, 48.6, 49.6,
  47.6, 44.6, 50.1, 51.4, 44.6, 40.3, 47.6, 54.7, 54.2, 55.2,
  57.7, 63.3, 60.8, 56.7, 50.1, 54.7, 61.8, 65.1, 58.7, 51.1,
  54.7, 57.0, 55.2, 55.7, 52.7, 48.1, 48.00
];

const GRID = '#f0f1f4';
const TEXT = '#131722';

function toPoints(dates, values) {
  const n = Math.min(dates.length, values.length);
  const pts = [];
  for (let i = 0; i < n; i++) pts.push({ x: dates[i], y: values[i] });
  return pts;
}

function timeScale(showLabels) {
  return {
    type: 'linear',
    min: xMin,
    max: xMax,
    afterBuildTicks: s => { s.ticks = timeTicks.map(v => ({ value: v })); },
    grid: { color: GRID, lineWidth: 1, drawTicks: false },
    border: { display: false },
    ticks: {
      display: showLabels,
      padding: 14,
      maxRotation: 0,
      autoSkip: false,
      color: TEXT,
      callback: (v, i) => timeTickLabels[i],
      font: c => ({ family: FONT, size: 19, weight: timeTickLabels[c.index] === 'Jul' ? 'normal' : 'bold' })
    },
    afterFit: s => {
      s.height = showLabels ? 40 : 0;
      s.paddingLeft = 0;
      s.paddingRight = 0;
    }
  };
}

function valueScale(min, max, ticks) {
  return {
    position: 'right',
    min: min,
    max: max,
    afterBuildTicks: s => { s.ticks = ticks.map(v => ({ value: v })); },
    grid: { color: GRID, lineWidth: 1, drawTicks: false },
    border: { display: false },
    ticks: { padding: 13, color: TEXT, font: { family: FONT, size: 19 }, callback: v => Number(v).toFixed(2) },
    afterFit: s => {
      s.width = 73;
      s.paddingTop = 0;
      s.paddingBottom = 0;
    }
  };
}

function drawBadge(ctx, left, cy, text, bg, fg, w) {
  ctx.save();
  ctx.fillStyle = bg;
  ctx.beginPath();
  ctx.roundRect(left + 1, Math.round(cy) - 11.5, w, 23, 3);
  ctx.fill();
  ctx.fillStyle = fg;
  ctx.font = '19px ' + FONT;
  ctx.textAlign = 'left';
  ctx.textBaseline = 'middle';
  ctx.fillText(text, left + 13, Math.round(cy) + 1);
  ctx.restore();
}

const lastPriceLine = {
  id: 'lastPriceLine',
  beforeDatasetsDraw(chart) {
    const { ctx, chartArea: a } = chart;
    const py = Math.round(chart.scales.y.getPixelForValue(lastClose)) + 0.5;
    ctx.save();
    ctx.strokeStyle = '#8a8d96';
    ctx.lineWidth = 1.3;
    ctx.setLineDash([2, 3]);
    ctx.beginPath();
    ctx.moveTo(a.left, py);
    ctx.lineTo(a.right, py);
    ctx.stroke();
    ctx.restore();
  },
  afterDraw(chart) {
    drawBadge(chart.ctx, chart.chartArea.right, chart.scales.y.getPixelForValue(lastClose),
              lastClose.toFixed(2), '#000000', '#ffffff', 57);
  }
};

const rsiBands = {
  id: 'rsiBands',
  beforeDatasetsDraw(chart) {
    const { ctx, chartArea: a } = chart;
    const y = chart.scales.y;
    const top = y.getPixelForValue(rsiUpper);
    const bot = y.getPixelForValue(rsiLower);
    ctx.save();
    ctx.fillStyle = 'rgba(126, 87, 194, 0.1)';
    ctx.fillRect(a.left, top, a.right - a.left, bot - top);
    ctx.lineWidth = 1.3;
    ctx.setLineDash([5, 4]);
    [[rsiUpper, '#9b9ea6'], [rsiMiddle, '#c4c6cc'], [rsiLower, '#9b9ea6']].forEach(([v, c]) => {
      const py = Math.round(y.getPixelForValue(v)) + 0.5;
      ctx.strokeStyle = c;
      ctx.beginPath();
      ctx.moveTo(a.left, py);
      ctx.lineTo(a.right, py);
      ctx.stroke();
    });
    ctx.restore();
  },
  afterDraw(chart) {
    const y = chart.scales.y, r = chart.chartArea.right;
    drawBadge(chart.ctx, r, y.getPixelForValue(lastMa), lastMa.toFixed(2), '#fdd835', TEXT, 66);
    drawBadge(chart.ctx, r, y.getPixelForValue(lastRsi), lastRsi.toFixed(2), '#7e57c2', '#ffffff', 66);
  }
};

const baseOptions = {
  responsive: true,
  maintainAspectRatio: false,
  animation: false,
  events: [],
  layout: { padding: 0 },
  plugins: { legend: { display: false }, tooltip: { enabled: false } },
  elements: { point: { radius: 0 }, line: { tension: 0, borderJoinStyle: 'round', borderCapStyle: 'round' } }
};

new Chart(document.getElementById('priceChart'), {
  type: 'line',
  data: {
    datasets: [{
      label: 'OVX/VIX',
      data: toPoints(priceDates, priceValues),
      borderColor: '#000000',
      borderWidth: 3.4,
      pointRadius: 0
    }]
  },
  options: Object.assign({}, baseOptions, {
    parsing: false,
    scales: {
      x: timeScale(false),
      y: valueScale(0.0705, 7.955, priceTicks)
    }
  }),
  plugins: [lastPriceLine]
});

new Chart(document.getElementById('rsiChart'), {
  type: 'line',
  data: {
    datasets: [{
      label: 'RSI-based MA',
      data: toPoints(maDates, maValues),
      borderColor: '#fdd835',
      borderWidth: 1.5,
      pointRadius: 0,
      order: 2
    }, {
      label: 'RSI',
      data: toPoints(rsiDates, rsiValues),
      borderColor: '#7e57c2',
      borderWidth: 1.6,
      pointRadius: 0,
      order: 1
    }]
  },
  options: Object.assign({}, baseOptions, {
    parsing: false,
    scales: {
      x: timeScale(true),
      y: valueScale(15.74, 87.92, rsiTicks)
    }
  }),
  plugins: [rsiBands]
});
</script>
</body>
</html>
